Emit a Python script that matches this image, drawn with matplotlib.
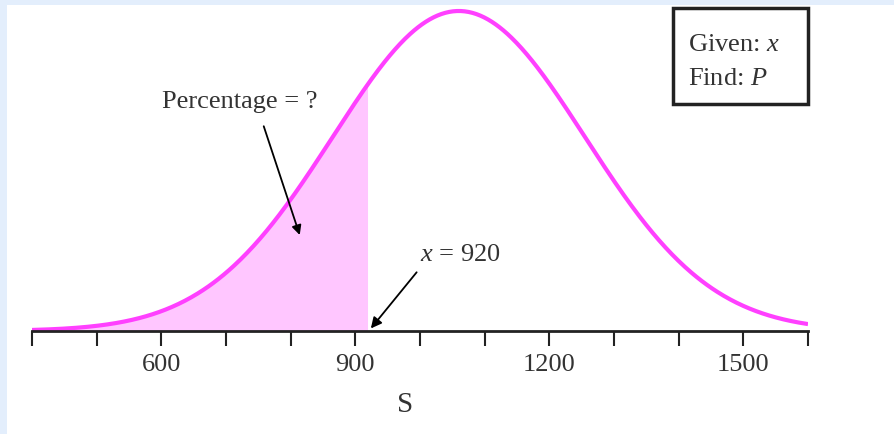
import matplotlib.pyplot as plt
from matplotlib.patches import Rectangle
import numpy as np

# values
mean_score = 1060
sd_score = 195
cutoff = 920
x_min, x_max = 400, 1600
tick_values = [400, 500, 600, 700, 800, 900, 1000, 1100, 1200, 1300, 1400, 1500, 1600]
tick_labels = ['', '', '600', '', '', '900', '', '', '1200', '', '', '1500', '']

plt.rcParams['font.family'] = ['Liberation Serif', 'DejaVu Serif']
plt.rcParams['mathtext.fontset'] = 'custom'
plt.rcParams['mathtext.rm'] = 'Liberation Serif'
plt.rcParams['mathtext.it'] = 'Liberation Serif:italic'

W, H = 894, 435
fig = plt.figure(figsize=(W / 100, H / 100), dpi=100, facecolor='#e3eefc')
# white page (light blue strip left and top)
fig.patches.append(Rectangle((7 / W, 0), 1, 1 - 6 / H, transform=fig.transFigure,
                             facecolor='white', edgecolor='none', zorder=-5))

# axes placed in pixels: axis line at y=332, left 32, right 808
ax = fig.add_axes([32 / W, (H - 332) / H, (808 - 32) / W, (332 - 8) / H])
ax.patch.set_alpha(0)

s = np.linspace(x_min, x_max, 600)
pdf = np.exp(-0.5 * ((s - mean_score) / sd_score) ** 2)
peak = pdf.max()

ax.fill_between(s, 0, pdf, where=s <= cutoff, color='#ffc6ff', linewidth=0, zorder=1)
ax.plot(s, pdf, color='#ff40ff', lw=3, zorder=2, solid_capstyle='butt')

ax.set_xlim(x_min, x_max)
ax.set_ylim(0, peak * 324 / 320)

for sp in ['top', 'right', 'left']:
    ax.spines[sp].set_visible(False)
ax.spines['bottom'].set_color('#222222')
ax.spines['bottom'].set_linewidth(2)
ax.spines['bottom'].set_zorder(3)
ax.set_yticks([])
ax.set_xticks(tick_values)
ax.set_xticklabels(tick_labels)
ax.tick_params(axis='x', direction='out', length=11, width=1.5, color='#222222',
               pad=5, labelsize=19, labelcolor='#333333')

# annotations
ax.annotate('Percentage = ?', xy=(814, 0.30 * peak), xytext=(722, 0.72 * peak),
            fontsize=19, color='#333333', ha='center', va='center',
            arrowprops=dict(arrowstyle='-|>', color='black', lw=1.3,
                            mutation_scale=14, shrinkA=9, shrinkB=0,
                            relpos=(0.62, 0.0)))
ax.annotate('$\\mathit{x}$ = 920', xy=(cutoff + 4, 0.008 * peak), xytext=(1000, 0.24 * peak),
            fontsize=19, color='#333333', ha='left', va='center',
            arrowprops=dict(arrowstyle='-|>', color='black', lw=1.3,
                            mutation_scale=16, shrinkA=4, shrinkB=0,
                            relpos=(0.03, 0.0)))

# Given / Find box
ax.add_patch(Rectangle((1391, 0.709 * peak), 209, 0.30 * peak, fill=False,
                       edgecolor='#222222', lw=2.5, clip_on=False, zorder=4))
ax.text(1414, 0.897 * peak, 'Given: $\\mathit{x}$', fontsize=19, color='#333333', va='center')
ax.text(1414, 0.792 * peak, 'Find: $\\mathit{P}$', fontsize=19, color='#333333', va='center')

fig.text(405 / W, 1 - 405 / H, 'S', fontsize=21, color='#333333', ha='center', va='center')

fig.savefig('out.png', dpi=100, facecolor=fig.get_facecolor())
